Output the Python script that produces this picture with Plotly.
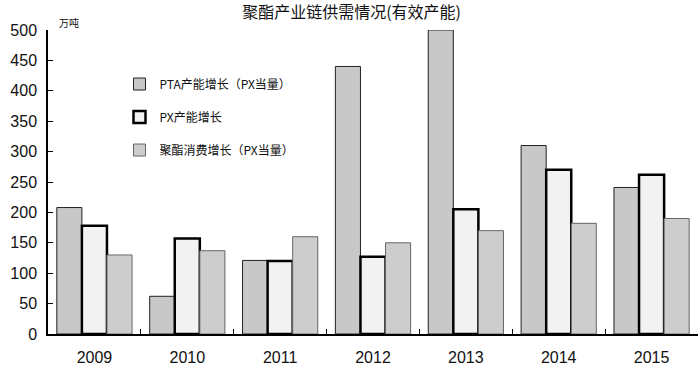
import plotly.graph_objects as go

years = ["2009", "2010", "2011", "2012", "2013", "2014", "2015"]
pta = [208, 62, 121, 440, 500, 310, 241]
px = [178, 157, 120, 127, 205, 270, 262]
cons = [130, 137, 160, 150, 170, 182, 190]
yticks = [0, 50, 100, 150, 200, 250, 300, 350, 400, 450, 500]

cjk = "Noto Sans CJK SC"
fig = go.Figure()
fig.add_bar(x=years, y=pta, name="PTA产能增长（PX当量）", legendgroup="a",
            marker=dict(color="#c8c8c8", line=dict(color="#222", width=1)))
fig.add_bar(x=years, y=px, name="PX产能增长", legendgroup="b",
            marker=dict(color="#f2f2f2", line=dict(color="#000", width=2.5)))
fig.add_bar(x=years, y=cons, name="聚酯消费增长（PX当量）", legendgroup="c",
            marker=dict(color="#cdcdcd", line=dict(color="#666", width=1)))

fig.update_layout(
    width=699, height=372,
    margin=dict(l=48, r=1, t=30, b=38),
    paper_bgcolor="white", plot_bgcolor="white",
    barmode="group", bargap=0.19, bargroupgap=0,
    title=dict(text="聚酯产业链供需情况(有效产能)", x=0.503, xanchor="center", y=0.966, yanchor="middle",
               font=dict(family=cjk, size=16, color="#111")),
    font=dict(family="Liberation Sans, Arial", size=14, color="#111"),
    legend=dict(x=0.11, y=0.87, xanchor="left", yanchor="top", bgcolor="rgba(0,0,0,0)",
                font=dict(family=cjk, size=12, color="#111"), tracegroupgap=14,
                itemwidth=30),
    showlegend=True,
)
fig.update_xaxes(showline=True, linecolor="#000", linewidth=1.5, ticks="inside", ticklen=5,
                 tickson="boundaries", tickcolor="#000", showgrid=False,
                 ticklabelstandoff=8, tickfont=dict(size=16))
fig.update_yaxes(range=[0, 500], tickvals=yticks, showline=True, linecolor="#000", linewidth=1.5,
                 ticks="inside", ticklen=5, tickcolor="#000", showgrid=False, zeroline=False,
                 ticklabelstandoff=6, tickfont=dict(size=16))
fig.add_annotation(text="万吨", xref="paper", yref="paper", x=0.014, y=0.995, xanchor="left",
                   yanchor="bottom", showarrow=False, font=dict(family=cjk, size=10, color="#111"))
fig.write_html("out.html", config={"displayModeBar": False},
               post_script="document.body.style.margin='0';")
